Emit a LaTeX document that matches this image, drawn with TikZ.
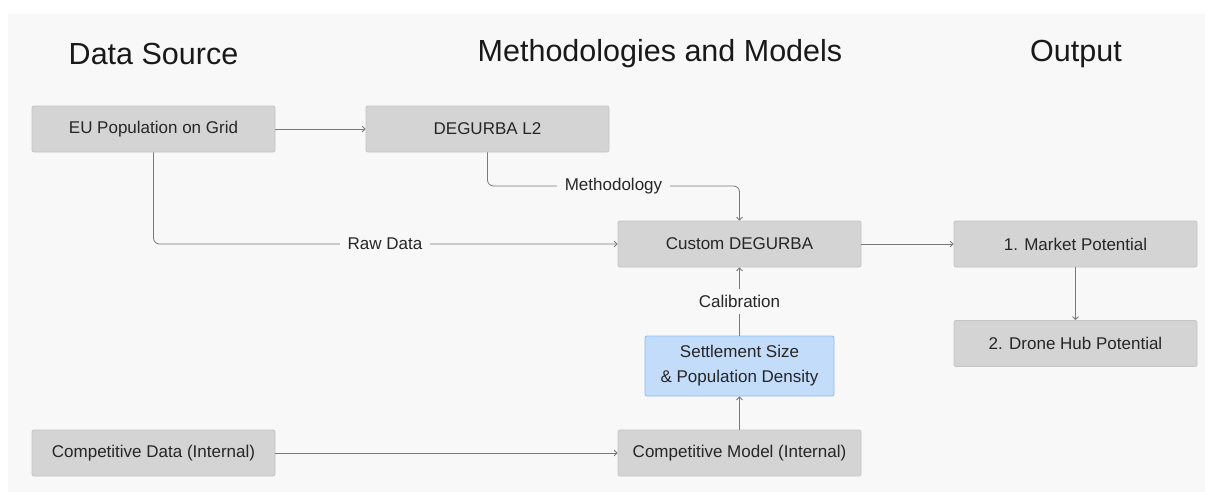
\documentclass[tikz,border=0pt]{standalone}
\usepackage{fontspec}
\setmainfont{Liberation Sans}
\usetikzlibrary{arrows.meta}
\definecolor{bgc}{HTML}{F8F8F8}
\definecolor{boxfill}{HTML}{D4D4D4}
\definecolor{boxline}{HTML}{C4C4C4}
\definecolor{bluefill}{HTML}{C3DCFA}
\definecolor{blueline}{HTML}{8CBDF2}
\definecolor{linec}{HTML}{7A7A7A}
\definecolor{txt}{HTML}{262626}
\tikzset{
  x=1pt, y=-1pt,
  box/.style={draw=boxline, fill=boxfill, line width=0.8pt, rounded corners=2pt,
    minimum width=243pt, minimum height=46pt, inner sep=0pt,
    font=\fontsize{17}{20}\selectfont, text=txt, align=center},
  bluebox/.style={box, draw=blueline, fill=bluefill, minimum width=189pt, minimum height=60pt,
    font=\fontsize{17}{25}\selectfont},
  title/.style={font=\fontsize{30.5}{36}\selectfont, text=black!90},
  conn/.style={draw=linec, line width=0.8pt, rounded corners=6pt,
    -{Straight Barb[length=3pt,width=6pt]}},
  lbl/.style={fill=bgc, inner xsep=8pt, inner ysep=2pt, font=\fontsize{17}{20}\selectfont, text=txt}
}
\begin{document}
\begin{tikzpicture}
\useasboundingbox (0,0) rectangle (1205,496);
\fill[white] (0,0) rectangle (1205,496);
\fill[bgc] (8,14) rectangle (1205,492);

\node[title] (t1) at (153.5,54) {Data Source};
\node[title] (t2) at (660,54) {Methodologies and Models};
\node[title] (t3) at (1076,54) {Output};

\node[box] (eu) at (153.5,129) {EU Population on Grid};
\node[box] (l2) at (487.5,129) {DEGURBA L2};
\node[box] (cd) at (739.5,244) {Custom DEGURBA};
\node[box] (mp) at (1075.5,244) {1. Market Potential};
\node[box] (dh) at (1075.5,343.5) {2. Drone Hub Potential};
\node[bluebox] (ss) at (739.5,366) {Settlement Size\\\& Population Density};
\node[box] (cdi) at (153.5,453) {Competitive Data (Internal)};
\node[box] (cmi) at (739.5,453) {Competitive Model (Internal)};

\coordinate (m1) at (487.5,186);
\coordinate (m2) at (739.5,186);
\coordinate (r1) at (153.5,244);

\draw[conn] (eu) -- (l2);
\draw[conn] (l2.south) -- (m1) -- (m2) -- (cd.north);
\node[lbl] (mlbl) at (613.5,186) {Methodology};
\draw[conn] (eu.south) -- (r1) -- (cd.west);
\node[lbl] (rlbl) at (385,244) {Raw Data};
\draw[conn] (cd) -- (mp);
\draw[conn] (mp) -- (dh);
\draw[conn] (ss) -- (cd);
\node[lbl, inner xsep=2pt, inner ysep=6pt] (clbl) at (739.5,301.5) {Calibration};
\draw[conn] (cmi) -- (ss);
\draw[conn] (cdi) -- (cmi);
\end{tikzpicture}
\end{document}
